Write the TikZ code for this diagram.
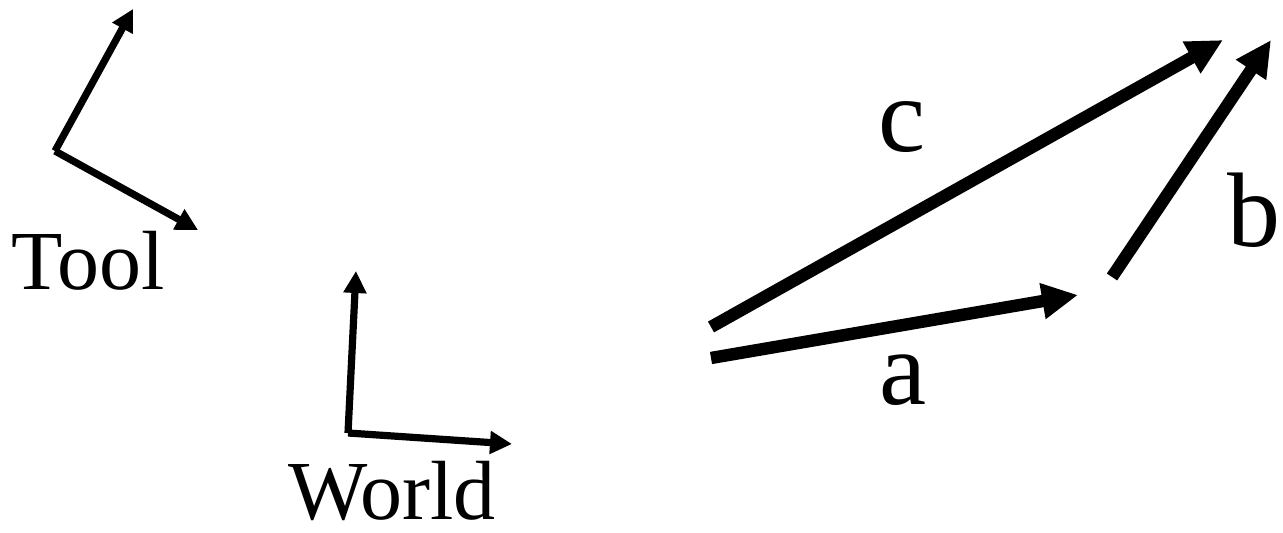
\documentclass[tikz,border=0pt]{standalone}
\usepackage{fontspec}
\setmainfont{Liberation Serif}
\usetikzlibrary{arrows.meta}

\tikzset{
    frame/.style={line width=3.6pt, -{Triangle[length=11pt, width=11pt]}},
    vec/.style={line width=6.2pt, -{Triangle[length=18pt, width=17pt]}},
    frametext/.style={anchor=base, inner sep=0pt, font=\fontsize{42}{42}\selectfont},
    vectext/.style={anchor=base, inner sep=0pt, font=\fontsize{53}{53}\selectfont}
}

\begin{document}
\begin{tikzpicture}[x=0.5pt, y=-0.5pt]
    \useasboundingbox (0, 0) rectangle (1283, 533);

    % --- Tool frame (top left) ---
    \coordinate (toolO) at (55, 151);
    \coordinate (toolY) at (133, 9);
    \coordinate (toolX) at (198, 230);
    \draw[frame] (toolO) -- (toolY);
    \draw[frame] (toolO) -- (toolX);
    \node[frametext] (toolLabel) at (88, 290) {Tool};

    % --- World frame (bottom middle) ---
    \coordinate (worldO) at (348, 433);
    \coordinate (worldY) at (356, 271);
    \coordinate (worldX) at (512, 444);
    \draw[frame] (worldO) -- (worldY);
    \draw[frame] (worldO) -- (worldX);
    \node[frametext] (worldLabel) at (392, 519) {World};

    % --- Vectors a, b, c (right) ---
    \coordinate (cStart) at (711, 327);
    \coordinate (cEnd) at (1223, 40);
    \coordinate (aStart) at (711, 358);
    \coordinate (aEnd) at (1078, 295);
    \coordinate (bStart) at (1112, 277);
    \coordinate (bEnd) at (1271, 40);
    \draw[vec] (cStart) -- (cEnd);
    \draw[vec] (aStart) -- (aEnd);
    \draw[vec] (bStart) -- (bEnd);

    \node[vectext] (cLabel) at (902, 152) {c};
    \node[vectext] (aLabel) at (903, 405) {a};
    \node[vectext] (bLabel) at (1254, 247) {b};

\end{tikzpicture}
\end{document}
